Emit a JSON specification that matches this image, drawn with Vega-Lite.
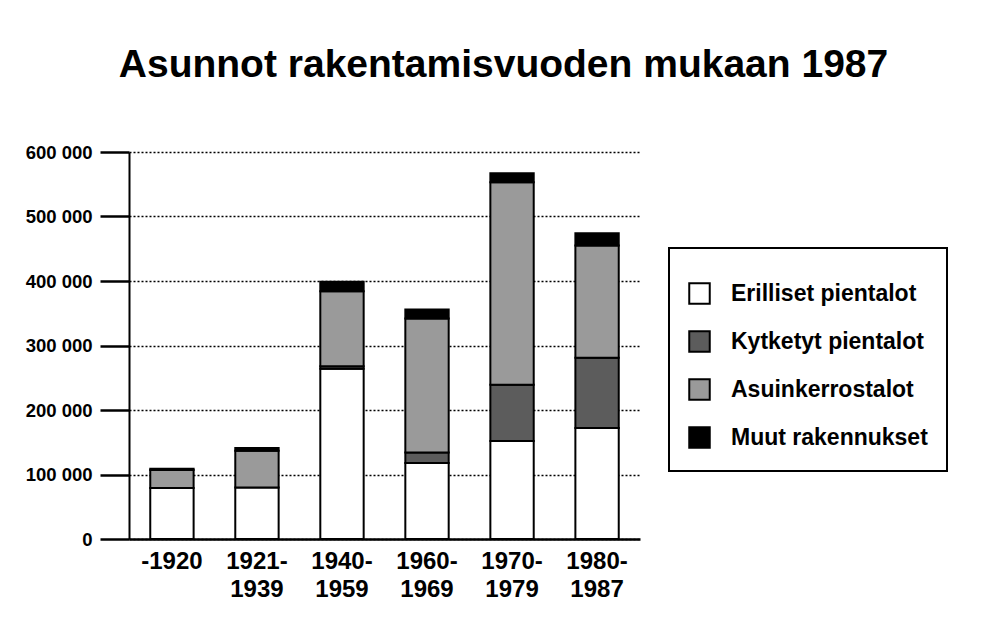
{
  "$schema": "https://vega.github.io/schema/vega-lite/v6.json",
  "autosize": "none",
  "width": 511,
  "height": 387,
  "padding": {"left": 129, "top": 152, "right": 346, "bottom": 92},
  "background": "white",
  "title": {
    "text": "Asunnot rakentamisvuoden mukaan 1987",
    "font": "Liberation Sans",
    "fontSize": 39,
    "fontWeight": "bold",
    "color": "black",
    "anchor": "middle",
    "baseline": "alphabetic",
    "dx": 119,
    "offset": 27
  },
  "data": {
    "values": [
      {"kausi": "-1920", "tyyppi": "Erilliset pientalot", "o": 1, "asunnot": 79000},
      {"kausi": "-1920", "tyyppi": "Asuinkerrostalot", "o": 3, "asunnot": 28000},
      {"kausi": "-1920", "tyyppi": "Muut rakennukset", "o": 4, "asunnot": 2000},
      {"kausi": "1921-1939", "tyyppi": "Erilliset pientalot", "o": 1, "asunnot": 80000},
      {"kausi": "1921-1939", "tyyppi": "Asuinkerrostalot", "o": 3, "asunnot": 57000},
      {"kausi": "1921-1939", "tyyppi": "Muut rakennukset", "o": 4, "asunnot": 4000},
      {"kausi": "1940-1959", "tyyppi": "Erilliset pientalot", "o": 1, "asunnot": 264000},
      {"kausi": "1940-1959", "tyyppi": "Kytketyt pientalot", "o": 2, "asunnot": 4000},
      {"kausi": "1940-1959", "tyyppi": "Asuinkerrostalot", "o": 3, "asunnot": 116000},
      {"kausi": "1940-1959", "tyyppi": "Muut rakennukset", "o": 4, "asunnot": 15000},
      {"kausi": "1960-1969", "tyyppi": "Erilliset pientalot", "o": 1, "asunnot": 118000},
      {"kausi": "1960-1969", "tyyppi": "Kytketyt pientalot", "o": 2, "asunnot": 16000},
      {"kausi": "1960-1969", "tyyppi": "Asuinkerrostalot", "o": 3, "asunnot": 208000},
      {"kausi": "1960-1969", "tyyppi": "Muut rakennukset", "o": 4, "asunnot": 14000},
      {"kausi": "1970-1979", "tyyppi": "Erilliset pientalot", "o": 1, "asunnot": 152000},
      {"kausi": "1970-1979", "tyyppi": "Kytketyt pientalot", "o": 2, "asunnot": 87000},
      {"kausi": "1970-1979", "tyyppi": "Asuinkerrostalot", "o": 3, "asunnot": 314000},
      {"kausi": "1970-1979", "tyyppi": "Muut rakennukset", "o": 4, "asunnot": 14000},
      {"kausi": "1980-1987", "tyyppi": "Erilliset pientalot", "o": 1, "asunnot": 172000},
      {"kausi": "1980-1987", "tyyppi": "Kytketyt pientalot", "o": 2, "asunnot": 109000},
      {"kausi": "1980-1987", "tyyppi": "Asuinkerrostalot", "o": 3, "asunnot": 174000},
      {"kausi": "1980-1987", "tyyppi": "Muut rakennukset", "o": 4, "asunnot": 19000}
    ]
  },
  "mark": {"type": "bar", "stroke": "black", "strokeWidth": 2},
  "encoding": {
    "x": {
      "field": "kausi",
      "type": "nominal",
      "sort": null,
      "scale": {"paddingInner": 0.49, "paddingOuter": 0.25},
      "axis": {
        "title": null,
        "labelAngle": 0,
        "ticks": false,
        "labelFont": "Liberation Sans",
        "labelFontSize": 24,
        "labelFontWeight": "bold",
        "labelColor": "black",
        "labelPadding": 10,
        "labelLineHeight": 28,
        "labelExpr": "datum.value == '-1920' ? '-1920' : [slice(datum.value, 0, 5), slice(datum.value, 5)]",
        "domainColor": "black",
        "domainWidth": 2.5,
        "grid": false
      }
    },
    "y": {
      "field": "asunnot",
      "type": "quantitative",
      "stack": "zero",
      "scale": {"domain": [0, 600000], "nice": false},
      "axis": {
        "title": null,
        "values": [0, 100000, 200000, 300000, 400000, 500000, 600000],
        "labelExpr": "replace(format(datum.value, ','), /,/g, ' ')",
        "labelFont": "Liberation Sans",
        "labelFontSize": 18.5,
        "labelFontWeight": "bold",
        "labelColor": "black",
        "labelPadding": 8,
        "ticks": true,
        "tickSize": 29,
        "tickColor": "#000000",
        "tickWidth": 2.5,
        "tickCap": "butt",
        "domainColor": "black",
        "domainWidth": 2,
        "grid": true,
        "gridColor": "black",
        "gridDash": [2, 2],
        "gridWidth": 1.5
      }
    },
    "fill": {
      "field": "tyyppi",
      "type": "nominal",
      "scale": {
        "domain": ["Erilliset pientalot", "Kytketyt pientalot", "Asuinkerrostalot", "Muut rakennukset"],
        "range": ["#ffffff", "#5c5c5c", "#9a9a9a", "#000000"]
      },
      "legend": {
        "title": " ",
        "titleFontSize": 6,
        "titlePadding": 9,
        "orient": "none",
        "legendX": 540,
        "legendY": 96,
        "padding": 19,
        "strokeColor": "black",
        "fillColor": "white",
        "symbolType": "square",
        "symbolSize": 420,
        "symbolStrokeColor": "black",
        "symbolStrokeWidth": 2,
        "symbolOpacity": 1,
        "labelFont": "Liberation Sans",
        "labelFontSize": 23,
        "labelFontWeight": "bold",
        "labelColor": "black",
        "labelOffset": 20,
        "rowPadding": 19,
        "labelLimit": 400,
        "encode": {"legend": {"update": {"strokeWidth": {"value": 2}}}}
      }
    },
    "order": {"field": "o", "type": "quantitative"}
  },
  "config": {
    "view": {"stroke": null}
  }
}
